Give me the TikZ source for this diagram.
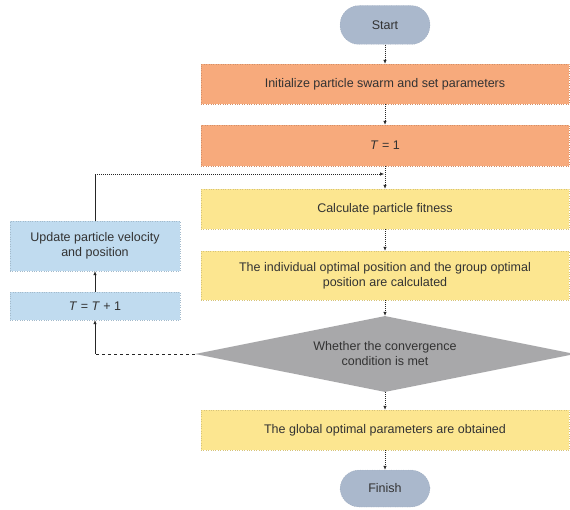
\documentclass[tikz,border=0pt]{standalone}
\usepackage{fontspec}
\setmainfont{Liberation Sans}
\usetikzlibrary{shapes.geometric,arrows.meta}
\definecolor{pillgray}{RGB}{170,184,204}
\definecolor{initorange}{RGB}{247,170,124}
\definecolor{stepyellow}{RGB}{252,230,144}
\definecolor{loopblue}{RGB}{192,219,239}
\definecolor{condgray}{RGB}{168,168,170}
\begin{document}
\begin{tikzpicture}[x=1pt, y=-1pt, font=\fontsize{12.5}{15}\selectfont,
    every node/.style={inner sep=0pt, align=center, text=black!80},
    pill/.style={fill=pillgray, draw=pillgray!85!black, dotted, rounded corners=19pt,
      minimum width=90pt, minimum height=39pt},
    orangebox/.style={fill=initorange, draw=initorange!85!black, dotted,
      minimum width=368pt, minimum height=40pt},
    yellowbox/.style={fill=stepyellow, draw=stepyellow!85!black, dotted,
      minimum width=368pt, minimum height=40pt},
    bluebox/.style={fill=loopblue, draw=loopblue!85!black, dotted,
      minimum width=170pt, minimum height=28pt},
    flow/.style={draw=black!85, line width=0.6pt, dash pattern=on 1pt off 1pt,
      -{Latex[length=4pt,width=3.5pt]}}]
  \useasboundingbox (0,0) rectangle (570,510);

  \node[pill] (start) at (385,25) {Start};
  \node[orangebox] (init) at (385,84) {Initialize particle swarm and set parameters};
  \node[orangebox, minimum height=41pt] (tone) at (385,145.5) {\textit{T} = 1};
  \node[yellowbox] (calc) at (385,209) {Calculate particle fitness};
  \node[yellowbox, minimum height=49pt] (best) at (385,275.5)
    {The individual optimal position and the group optimal\\position are calculated};
  \node[diamond, aspect=5, fill=condgray, minimum width=380pt, minimum height=76pt] (cond) at (385,354)
    {Whether the convergence\\condition is met};
  \node[yellowbox] (glob) at (385,430) {The global optimal parameters are obtained};
  \node[pill, minimum height=37pt] (finish) at (385,488.5) {Finish};

  \node[bluebox, minimum height=50pt] (upd) at (95,246) {Update particle velocity\\and position};
  \node[bluebox] (incr) at (95,306) {\textit{T} = \textit{T} + 1};

  \coordinate (join) at (385,174);
  \coordinate (turn) at (incr.south |- cond.west);

  % main chain
  \draw[flow] (start) -- (init);
  \draw[flow] (init) -- (tone);
  \draw[flow] (tone) -- (calc);
  \draw[flow] (calc) -- (best);
  \draw[flow] (best) -- (cond.north);
  \draw[flow] (cond.south) -- (glob);
  \draw[flow] (glob) -- (finish);

  % loop back
  \draw[black!85, line width=0.6pt, dashed] (cond.west) -- (turn);
  \draw[flow, solid] (turn) -- (incr.south);
  \draw[flow, solid] (incr) -- (upd);
  \draw[black!85, line width=0.6pt] (upd.north) -- (upd.north |- join);
  \draw[flow] (upd.north |- join) -- ([xshift=-1pt]join);
\end{tikzpicture}
\end{document}
